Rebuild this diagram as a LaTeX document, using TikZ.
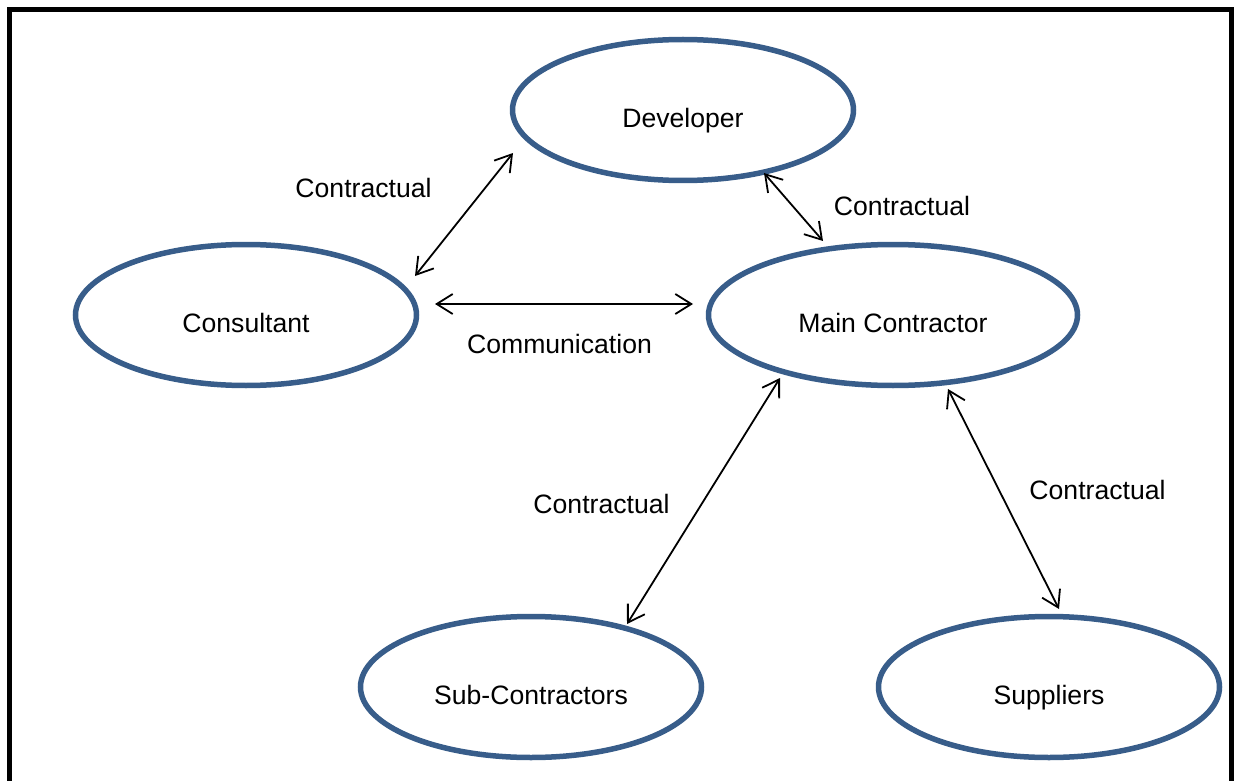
\documentclass[tikz,border=0pt]{standalone}
\usepackage{fontspec}
\setmainfont{Liberation Sans}
\usetikzlibrary{shapes.geometric,arrows.meta}
\definecolor{ringblue}{RGB}{56,93,138}
\begin{document}
\begin{tikzpicture}[x=1pt,y=-1pt,
  party/.style={ellipse,draw=ringblue,line width=5.5pt,inner sep=0pt,
    minimum width=341pt,minimum height=141pt,
    text height=35pt,text depth=0pt,
    font=\fontsize{26.6}{30}\selectfont},
  relation/.style={anchor=base,font=\fontsize{26.6}{30}\selectfont},
  link/.style={line width=1.8pt,{Straight Barb[length=16pt,width=20pt]}-{Straight Barb[length=16pt,width=20pt]}}]
\useasboundingbox (0,0) rectangle (1240,781);
% outer frame, open at the bottom
\draw[line width=5pt] (9.5,800) -- (9.5,9.5) -- (1231.5,9.5) -- (1231.5,800);

% parties
\node[party] (dev) at (683,110) {Developer};
\node[party] (cons) at (246,315) {Consultant};
\node[party,minimum width=369pt] (main) at (893,315) {Main Contractor};
\node[party] (sub) at (531,687) {Sub-Contractors};
\node[party] (supp) at (1049,687) {Suppliers};

% relationships
\draw[link] ([shift={(169,-39)}]cons.center) -- ([shift={(-170,43)}]dev.center);
\draw[link] ([shift={(81,63)}]dev.center) -- ([shift={(-70,-74)}]main.center);
\draw[link] ([shift={(189,-11)}]cons.center) -- ([shift={(-200,-11)}]main.center);
\draw[link] ([shift={(-113,63)}]main.center) -- ([shift={(96,-63)}]sub.center);
\draw[link] ([shift={(55,74)}]main.center) -- ([shift={(10,-78)}]supp.center);

% relationship labels
\node[relation] (l1) at (363.5,197) {Contractual};
\node[relation] (l2) at (902,215) {Contractual};
\node[relation] (l3) at (559.5,353) {Communication};
\node[relation] (l4) at (601.5,513.5) {Contractual};
\node[relation] (l5) at (1097.5,499.5) {Contractual};
\end{tikzpicture}
\end{document}
